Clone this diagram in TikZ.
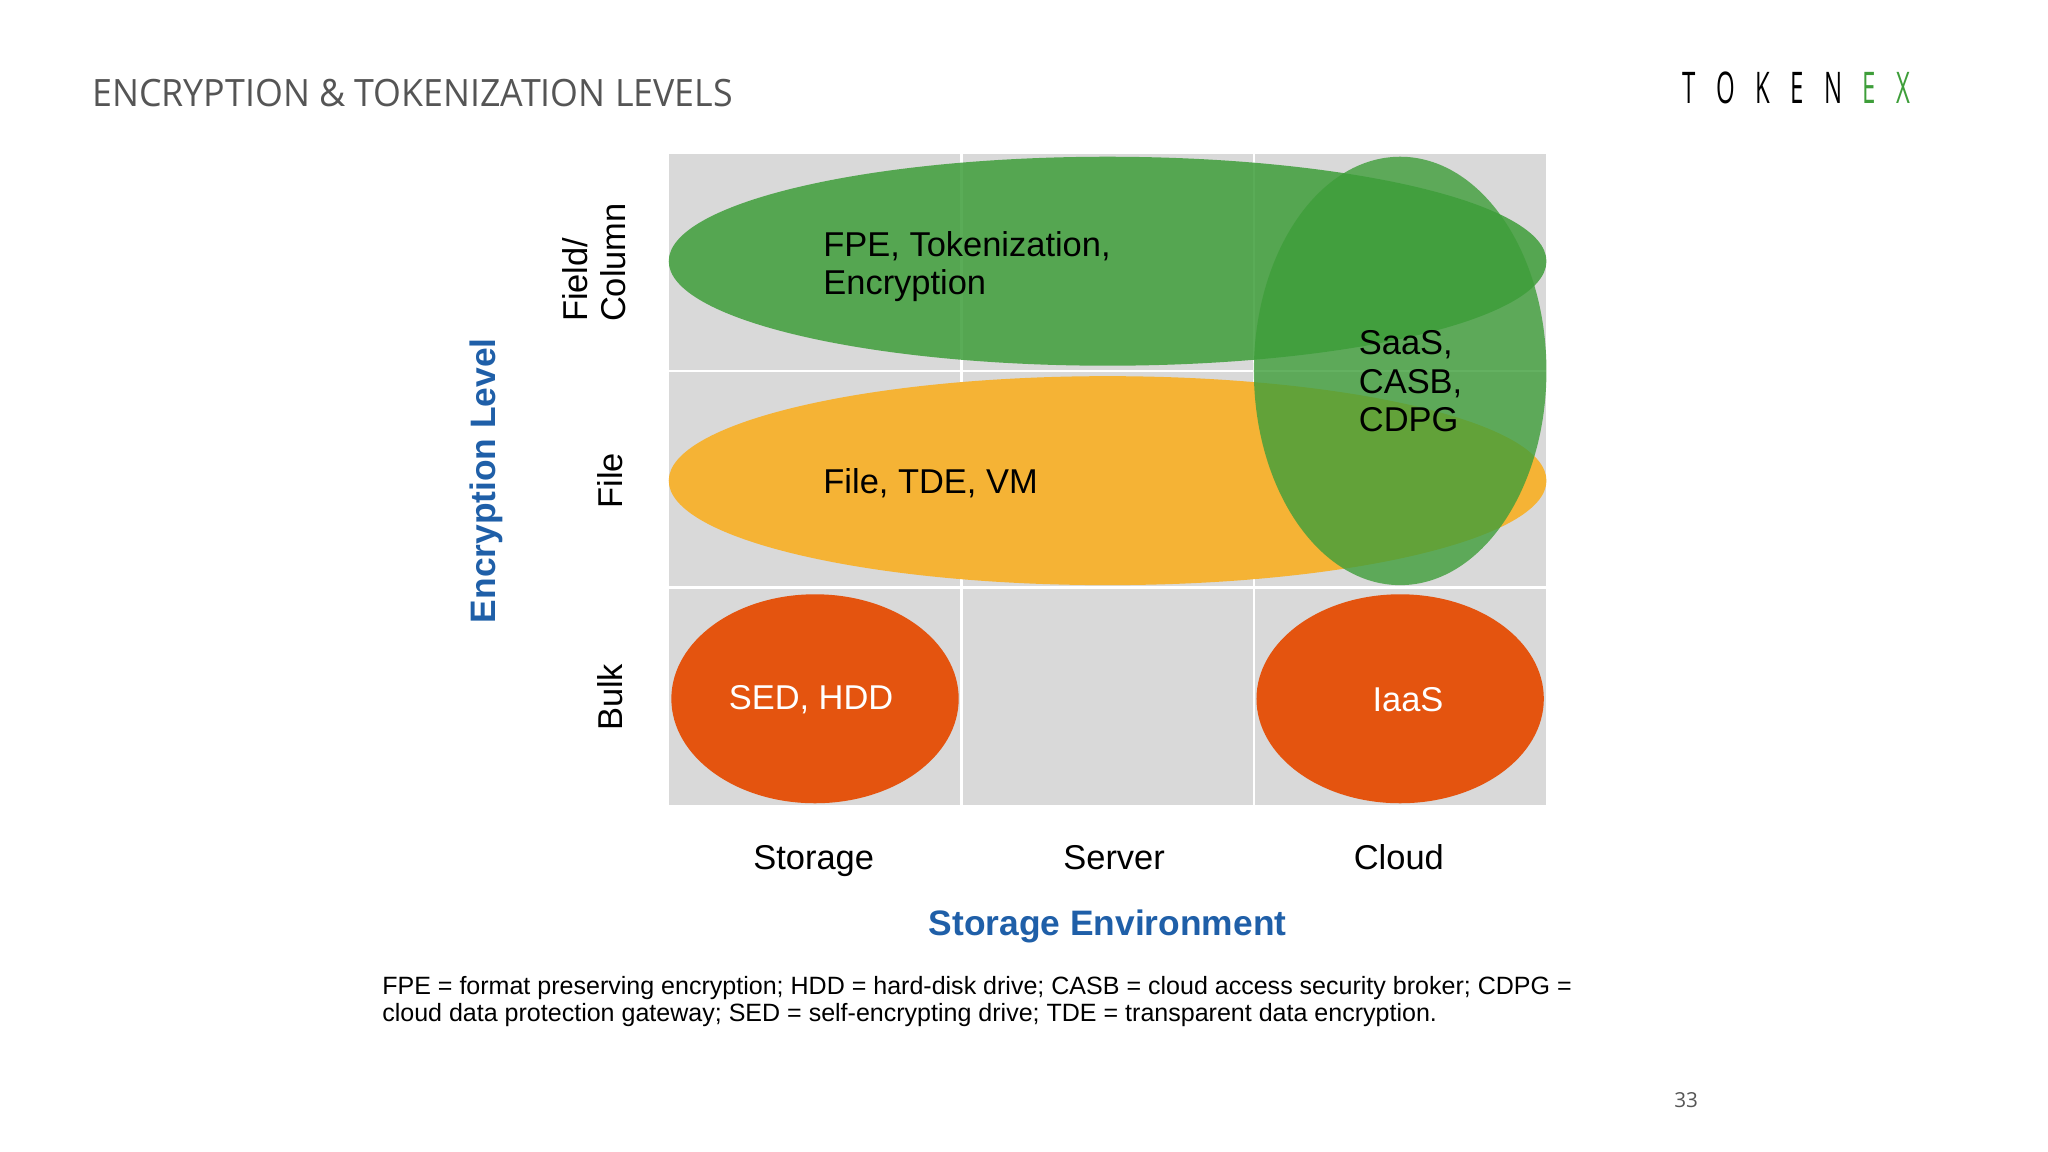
\documentclass[tikz,border=0pt]{standalone}
\usepackage{fontspec}
\setmainfont{Liberation Sans}
\newfontfamily\titlefont{Open Sans}
\definecolor{gridgray}{HTML}{D9D9D9}
\definecolor{fgreen}{HTML}{3E9E3A}
\definecolor{forange}{HTML}{F5B335}
\definecolor{fred}{HTML}{E4540F}
\definecolor{fblue}{HTML}{1F5FA8}
\definecolor{tgray}{HTML}{555555}
\tikzset{
  lbl/.style={font=\fontsize{7.5}{8.4}\selectfont, align=left},
  axis/.style={font=\bfseries\fontsize{7.7}{9}\selectfont, text=fblue},
  gline/.style={white, line width=0.6pt}
}
\begin{document}
\begin{tikzpicture}[x=0.01cm,y=-0.01cm]
\useasboundingbox (0,0) rectangle (1568,882);
\node[anchor=west, text=tgray, font=\titlefont\fontsize{8.2}{10}\selectfont, xscale=0.95, inner sep=0pt] (title) at (70,71) {ENCRYPTION \& TOKENIZATION LEVELS};
\node[anchor=east, text=black, font=\titlefont\fontsize{9.5}{10}\selectfont, xscale=0.55, inner sep=0pt] (logo) at (1463,67) {T\hspace{0.85em}O\hspace{0.85em}K\hspace{0.85em}E\hspace{0.85em}N\hspace{0.85em}\textcolor{fgreen}{E\hspace{0.85em}X}};
% grid
\fill[gridgray] (512,118) rectangle (1184,616);
\draw[gline] (736,118) -- (736,616);
\draw[gline] (960,118) -- (960,616);
\draw[gline] (512,284) -- (1184,284);
\draw[gline] (512,450) -- (1184,450);
% ellipses
\fill[fgreen, opacity=0.85] (848,200) ellipse [x radius=336, y radius=80];
\fill[forange] (848,368) ellipse [x radius=336, y radius=80];
\fill[fgreen, opacity=0.8] (1072,284) ellipse [x radius=112, y radius=164];
\fill[fred] (624,535) ellipse [x radius=110, y radius=80];
\fill[fred] (1072,535) ellipse [x radius=110, y radius=80];
% labels
\node[lbl, anchor=west] (fpe) at (618,204) {FPE, Tokenization,\\Encryption};
\node[lbl, anchor=west] (file) at (618,370) {File, TDE, VM};
\node[lbl, anchor=west] (saas) at (1028,292) {SaaS,\\CASB,\\CDPG};
\node[lbl, text=white] (sed) at (621,536) {SED, HDD};
\node[lbl, text=white] (iaas) at (1078,536) {IaaS};
\node[lbl, rotate=90, align=left] (r1) at (455,201) {Field/\\Column};
\node[lbl, rotate=90] (r2) at (467,368) {File};
\node[lbl, rotate=90] (r3) at (467,534) {Bulk};
\node[axis, rotate=90] (ylab) at (372,368) {Encryption Level};
\node[lbl, anchor=base] (c1) at (623,666) {Storage};
\node[lbl, anchor=base] (c2) at (853,666) {Server};
\node[lbl, anchor=base] (c3) at (1071,666) {Cloud};
\node[axis] (xlab) at (848,709) {Storage Environment};
\node[anchor=north west, align=left, font=\fontsize{5.45}{5.9}\selectfont, inner sep=0pt] (foot) at (292,747) {FPE = format preserving encryption; HDD = hard-disk drive; CASB = cloud access security broker; CDPG =\\cloud data protection gateway; SED = self-encrypting drive; TDE = transparent data encryption.};
\node[text=tgray, font=\titlefont\fontsize{4.5}{5}\selectfont] (pg) at (1291,842) {33};
\end{tikzpicture}
\end{document}
